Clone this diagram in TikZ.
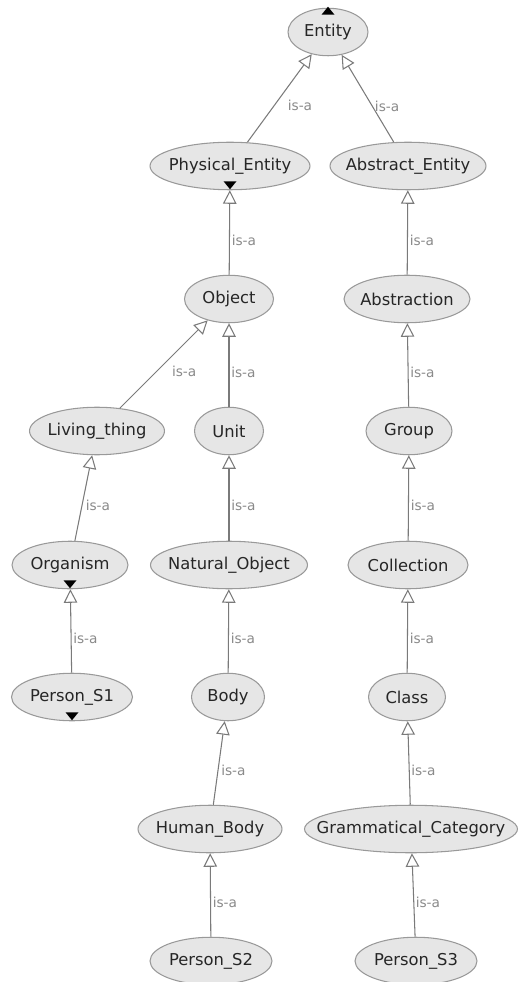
\documentclass[tikz,border=0pt]{standalone}
\usepackage{fontspec}
\setsansfont{DejaVu Sans}
\usepackage{tikz}
\usetikzlibrary{arrows.meta,calc,shapes.geometric}
\usepackage{xcolor}
\definecolor{nodefill}{HTML}{E6E6E6}
\definecolor{nodeline}{HTML}{999999}
\definecolor{edgeline}{HTML}{7A7A7A}
\definecolor{isatext}{HTML}{8A8A8A}
% collapse / expand marks
\newcommand{\downmark}[1]{\fill[black] ($(#1.south)+(-6.5,-9)$) -- ($(#1.south)+(6.5,-9)$) -- ($(#1.south)+(0,-1)$) -- cycle;}
\newcommand{\upmark}[1]{\fill[black] ($(#1.north)+(-6.5,7)$) -- ($(#1.north)+(6.5,7)$) -- ($(#1.north)+(0,-1)$) -- cycle;}

\begin{document}
\begin{tikzpicture}[x=0.02cm,y=-0.02cm,
    concept/.style={ellipse,draw=nodeline,fill=nodefill,line width=0.6pt,
      minimum height=0.95cm,inner xsep=-2cm,inner ysep=0pt,
      font=\sffamily\fontsize{9.3}{11}\selectfont,text=black!85},
    isedge/.style={draw=edgeline,line width=0.6pt,
      -{Triangle[fill=white,length=0.27cm,width=0.27cm]}},
    isa/.style={below right,inner sep=1pt,text=isatext,
      font=\sffamily\fontsize{7.8}{9}\selectfont}]
  \useasboundingbox (0,0) rectangle (520,982);
  % top
  \node[concept,minimum width=1.6cm] (ent) at (328,32) {Entity};
  \node[concept,minimum width=3.2cm] (pe) at (230,166) {Physical\_Entity};
  \node[concept,minimum width=3.12cm] (ae) at (408,166) {Abstract\_Entity};
  % physical side
  \node[concept,minimum width=1.78cm] (obj) at (229,299) {Object};
  \node[concept,minimum width=2.7cm] (lt) at (97,431) {Living\_thing};
  \node[concept,minimum width=1.38cm] (unit) at (229,431) {Unit};
  \node[concept,minimum width=2.32cm] (org) at (70,565) {Organism};
  \node[concept,minimum width=3.14cm] (nat) at (229,565) {Natural\_Object};
  \node[concept,minimum width=2.42cm] (ps1) at (72,697) {Person\_S1};
  \node[concept,minimum width=1.46cm] (body) at (228,697) {Body};
  \node[concept,minimum width=2.88cm] (hb) at (210,829) {Human\_Body};
  \node[concept,minimum width=2.44cm] (ps2) at (211,961) {Person\_S2};
  % abstract side
  \node[concept,minimum width=2.52cm] (abs) at (407,299) {Abstraction};
  \node[concept,minimum width=1.72cm] (grp) at (409,431) {Group};
  \node[concept,minimum width=2.4cm] (col) at (408,565) {Collection};
  \node[concept,minimum width=1.54cm] (cls) at (407,697) {Class};
  \node[concept,minimum width=4.26cm] (gc) at (411,829) {Grammatical\_Category};
  \node[concept,minimum width=2.44cm] (ps3) at (416,961) {Person\_S3};
  % is-a links
  \draw[isedge] (pe) -- (ent) node[isa,midway,xshift=0.12cm] {is-a};
  \draw[isedge] (ae) -- (ent) node[isa,midway,xshift=0.1cm] {is-a};
  \draw[isedge] (obj) -- (pe) node[isa,midway] {is-a};
  \draw[isedge] (lt) -- (obj) node[isa,midway,xshift=0.12cm] {is-a};
  \draw[isedge] (unit) -- (obj) node[isa,midway] {is-a};
  \draw[isedge] (org) -- (lt) node[isa,midway] {is-a};
  \draw[isedge] (nat) -- (unit) node[isa,midway] {is-a};
  \draw[isedge] (ps1) -- (org) node[isa,midway] {is-a};
  \draw[isedge] (body) -- (nat) node[isa,midway] {is-a};
  \draw[isedge] (hb) -- (body) node[isa,midway] {is-a};
  \draw[isedge] (ps2) -- (hb) node[isa,midway] {is-a};
  \draw[isedge] (abs) -- (ae) node[isa,midway] {is-a};
  \draw[isedge] (grp) -- (abs) node[isa,midway] {is-a};
  \draw[isedge] (col) -- (grp) node[isa,midway] {is-a};
  \draw[isedge] (cls) -- (col) node[isa,midway] {is-a};
  \draw[isedge] (gc) -- (cls) node[isa,midway] {is-a};
  \draw[isedge] (ps3) -- (gc) node[isa,midway] {is-a};
  % marks
  \upmark{ent}
  \downmark{pe}
  \downmark{org}
  \downmark{ps1}
\end{tikzpicture}
\end{document}
